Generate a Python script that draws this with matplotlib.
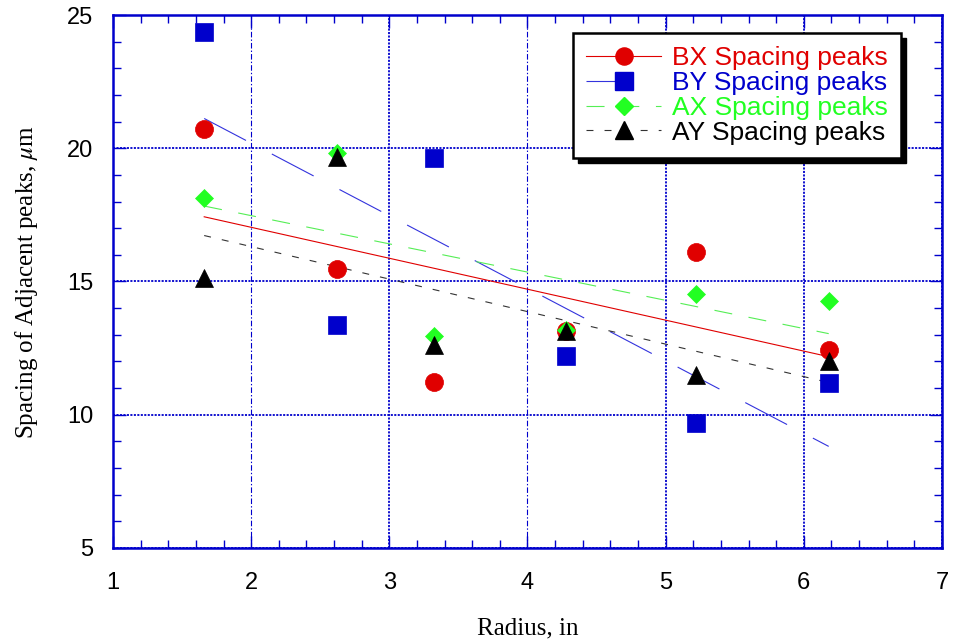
import numpy as np
import matplotlib
matplotlib.use("Agg")
import matplotlib.pyplot as plt
from matplotlib.patches import Rectangle
from matplotlib.lines import Line2D

plt.rcParams['lines.scale_dashes'] = False
plt.rcParams['mathtext.fontset'] = 'stix'

# ---- data ----
radius = [1.66, 2.62, 3.32, 4.28, 5.22, 6.18]
bx = [20.72, 15.47, 11.23, 13.14, 16.11, 12.43]
by = [24.36, 13.37, 19.63, 12.20, 9.69, 11.19]
ax_vals = [18.13, 19.82, 12.95, 13.18, 14.53, 14.27]
ay = [15.15, 19.67, 12.62, 13.14, 11.50, 12.02]
labels = ["BX Spacing peaks", "BY Spacing peaks", "AX Spacing peaks", "AY Spacing peaks"]
xticks = [1, 2, 3, 4, 5, 6, 7]
yticks = [5, 10, 15, 20, 25]

RED = '#e00000'
BLUE = '#0000cc'
GREEN = '#22ff22'
BLACK = '#000000'
AXBLUE = '#0000cc'

series = [
    (bx, RED, 'o', 13, '-', RED),
    (by, BLUE, 's', 13, (0, (34, 21)), '#3333dd'),
    (ax_vals, GREEN, 'D', 9.5, (0, (13, 12)), '#55ee55'),
    (ay, BLACK, '^', 13, (0, (5, 8)), '#333333'),
]

fig = plt.figure(figsize=(9.56, 6.4), dpi=100)
ax = fig.add_axes([113/956, 1-548/640, 829/956, 533/640])

x = np.array(radius)
handles = []
for (vals, col, mk, ms, ls, lcol), lab in zip(series, labels):
    y = np.array(vals)
    k, b = np.polyfit(x, y, 1)
    xs = np.array([x.min(), x.max()])
    ax.plot(xs, k*xs + b, color=lcol, lw=0.8, ls=ls, zorder=3)
    handles.append(Line2D([], [], color=lcol, lw=0.8, ls=ls, marker=mk,
                          markersize=ms*0.95, markerfacecolor=col,
                          markeredgecolor=col, label=lab))
for (vals, col, mk, ms, ls, lcol) in series:
    ax.plot(radius, vals, ls='none', marker=mk, markersize=ms,
            markerfacecolor=col, markeredgecolor=col, markeredgewidth=0.5, zorder=4)

ax.set_xlim(1, 7)
ax.set_ylim(5, 25)
ax.set_xticks(xticks)
ax.set_yticks(yticks)
ax.set_xticks(np.arange(1, 7.001, 0.2), minor=True)
ax.set_yticks(np.arange(5, 25.001, 1), minor=True)
ax.tick_params(which='both', direction='in', top=True, right=True, color=AXBLUE,
               labelsize=17, labelcolor='black', width=1)
ax.tick_params(which='major', length=9)
ax.tick_params(which='minor', length=6)
ax.tick_params(axis='x', which='major', pad=17)
ax.tick_params(axis='y', which='major', pad=14)
for lab in ax.get_xticklabels() + ax.get_yticklabels():
    lab.set_fontfamily('Liberation Sans')

ax.grid(True, which='major', color=AXBLUE, lw=1.3, ls=(0, (1.5, 1)))
for i, gl in enumerate(ax.xaxis.get_gridlines()):
    if xticks[i] in (2, 4):
        gl.set_linewidth(0.8)
        gl.set_linestyle((0, (4, 1.5, 1, 1.5)))
for s in ax.spines.values():
    s.set_color(AXBLUE)
    s.set_linewidth(1.8)

ax.set_xlabel("Radius, in", family='Liberation Serif', fontsize=18, labelpad=17)
ax.set_ylabel(r"Spacing of Adjacent peaks, $\mathit{\mu}$m", family='Liberation Serif',
              fontsize=18, labelpad=20)

leg = ax.legend(handles=handles, loc='upper left', bbox_to_anchor=(0.555, 0.966),
                prop={'family': 'Liberation Sans', 'size': 19},
                frameon=True, fancybox=False, framealpha=1, edgecolor='black',
                handlelength=2.85, handletextpad=0.4, labelspacing=0.03,
                borderpad=0.5, borderaxespad=0)
leg.get_frame().set_linewidth(1.8)
for txt, (vals, col, *_ ) in zip(leg.get_texts(), series):
    txt.set_color(col)
leg.set_zorder(10)

fig.canvas.draw()
bb = leg.get_window_extent()
shadow = Rectangle((bb.x0 + 5, bb.y0 - 5), bb.width, bb.height, transform=None,
                   facecolor='black', edgecolor='black', zorder=9)
ax.add_artist(shadow)

fig.savefig("out.png", dpi=100)
